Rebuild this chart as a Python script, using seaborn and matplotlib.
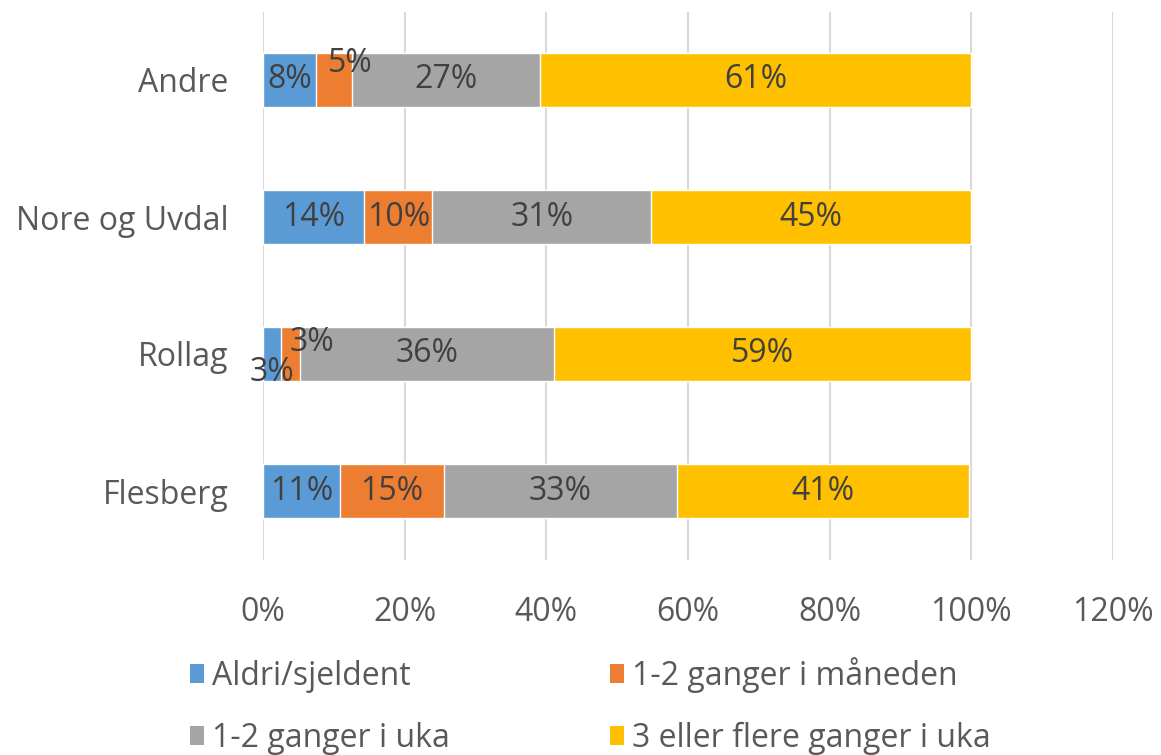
"""
Stacked horizontal bars: how often people use the service, per municipality.
"""

import pandas as pd
import matplotlib.pyplot as plt
import matplotlib.ticker as mticker
from matplotlib.patches import Patch
import seaborn as sns

# ---- data (shares in %) ----
places = ["Andre", "Nore og Uvdal", "Rollag", "Flesberg"]
series = ["Aldri/sjeldent", "1-2 ganger i måneden",
          "1-2 ganger i uka", "3 eller flere ganger i uka"]
aldri    = [7.5, 14.3, 2.6, 10.9]
maaned   = [5.0, 9.6, 2.6, 14.6]
uka      = [26.6, 30.9, 35.9, 33.0]
flere    = [60.9, 45.2, 58.9, 41.2]
x_ticks  = [0, 20, 40, 60, 80, 100, 120]

COLORS = ["#5B9BD5", "#ED7D31", "#A5A5A5", "#FFC000"]
TEXT   = "#404040"
TICK   = "#595959"
GRID   = "#D9D9D9"

sns.set_theme(style="white")
plt.rcParams["font.family"] = ["Open Sans", "DejaVu Sans"]
FS = 23

df = pd.DataFrame({"place": places, series[0]: aldri, series[1]: maaned,
                   series[2]: uka, series[3]: flere})
cum = df[series].cumsum(axis=1)

fig = plt.figure(figsize=(11.61, 7.55), dpi=100)
ax = fig.add_axes([263 / 1161, 1 - 559.5 / 755, (1113 - 263) / 1161, 548 / 755])

# draw from the outermost cumulative total inwards so segments stack
for i in reversed(range(len(series))):
    sns.barplot(x=cum[series[i]], y=df["place"], orient="h", color=COLORS[i],
                saturation=1, width=0.4, edgecolor="white", linewidth=1,
                ax=ax, zorder=3)

# segment labels (small ones are nudged like in the original)
nudge = {("Andre", 1): (12, 12), ("Rollag", 1): (15, 8), ("Rollag", 0): (0, -13)}
for r, place in enumerate(places):
    start = 0
    for i, s in enumerate(series):
        val = df.loc[r, s]
        dx, dy = nudge.get((place, i), (0, 0))
        ax.annotate(f"{round(val):.0f}%", (start + val / 2, r),
                    xytext=(dx, dy), textcoords="offset points",
                    ha="center", va="center", fontsize=FS, color=TEXT, zorder=5)
        start += val

ax.set_xlim(0, 120)
ax.set_xticks(x_ticks)
ax.xaxis.set_major_formatter(mticker.FuncFormatter(lambda v, p: f"{v:.0f}%"))
ax.grid(axis="x", color=GRID, linewidth=1.5, zorder=0)
ax.set_axisbelow(True)
for sp in ax.spines.values():
    sp.set_visible(False)
ax.set_xlabel("")
ax.set_ylabel("")
ax.tick_params(axis="x", length=0, pad=26, labelsize=FS, labelcolor=TICK)
ax.tick_params(axis="y", length=0, pad=25, labelsize=FS, labelcolor=TICK)

# legend filled row by row: Aldri, måneden / uka, flere
handles = [Patch(facecolor=c, edgecolor="none", label=s) for c, s in zip(COLORS, series)]
order = [0, 2, 1, 3]
fig.legend(handles=[handles[k] for k in order], ncol=2, loc="upper left",
           bbox_to_anchor=(190 / 1161, 1 - 657 / 755), frameon=False,
           fontsize=FS, labelcolor=TICK, handlelength=0.45, handleheight=0.55,
           handletextpad=0.25, columnspacing=5.0, labelspacing=0.9,
           borderpad=0, borderaxespad=0)

fig.savefig("out.png", dpi=100)
